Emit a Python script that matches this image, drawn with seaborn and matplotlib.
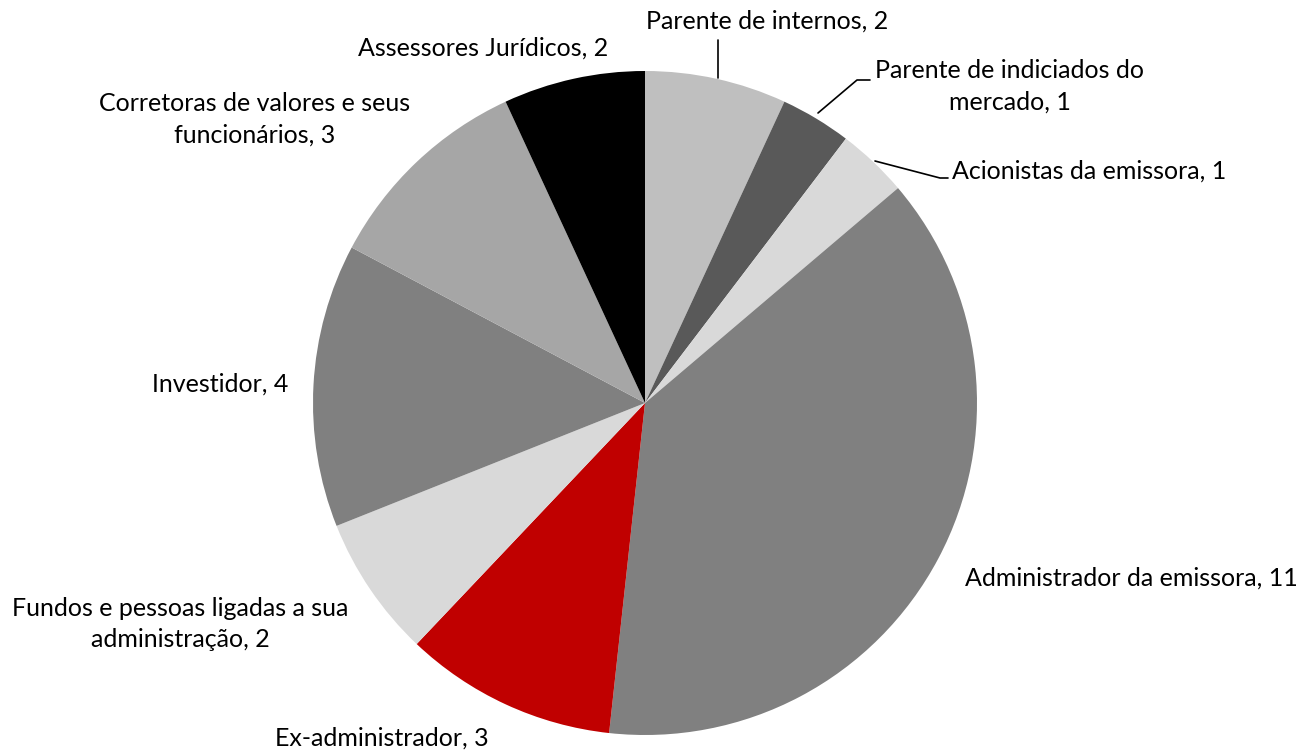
import matplotlib
matplotlib.use("Agg")
import matplotlib.pyplot as plt
import seaborn as sns

categories = ["Parente de internos", "Parente de indiciados do\nmercado", "Acionistas da emissora",
              "Administrador da emissora", "Ex-administrador",
              "Fundos e pessoas ligadas a sua\nadministração", "Investidor",
              "Corretoras de valores e seus\nfuncionários", "Assessores Jurídicos"]
values = [2, 1, 1, 11, 3, 2, 4, 3, 2]
colors = ["#BFBFBF", "#595959", "#D9D9D9", "#808080", "#C00000",
          "#D9D9D9", "#808080", "#A6A6A6", "#000000"]

sns.set_theme(style="white")
plt.rcParams['font.family'] = ['Lato', 'DejaVu Sans']

W, H = 1299, 750
fig = plt.figure(figsize=(W / 100, H / 100), dpi=100)
ax = fig.add_axes([0, 0, 1, 1])
cx, cy, R = 645, 403, 332

def d(px, py):
    return (px - cx) / R, (cy - py) / R

ax.pie(values, colors=colors, startangle=90, counterclock=False, radius=1,
       wedgeprops=dict(linewidth=0))
ax.set_xlim(d(0, 0)[0], d(W, 0)[0])
ax.set_ylim(d(0, H)[1], d(0, 0)[1])
ax.set_aspect('equal')
ax.axis('off')

labels = [f"{c}, {v}" for c, v in zip(categories, values)]
fs = 18
# (text px position, ha)
pos = [((767, 21), 'center'), ((1010, 86), 'center'), ((952, 171), 'left'),
       ((965, 578), 'left'), ((382, 738), 'center'), ((180, 624), 'center'),
       ((220, 384), 'center'), ((255, 119), 'center'), ((483, 48), 'center')]
for lab, ((px, py), ha) in zip(labels, pos):
    x, y = d(px, py)
    ax.text(x, y, lab, ha=ha, va='center', fontsize=fs, color='black', linespacing=1.45)

# leader lines
leaders = [[(718, 40), (718, 78)],
           [(818, 113), (857, 80), (870, 80)],
           [(875, 161), (940, 178), (948, 178)]]
for pts in leaders:
    xs, ys = zip(*[d(*p) for p in pts])
    ax.plot(xs, ys, color='black', lw=1.2)

fig.savefig("out.png", dpi=100)
